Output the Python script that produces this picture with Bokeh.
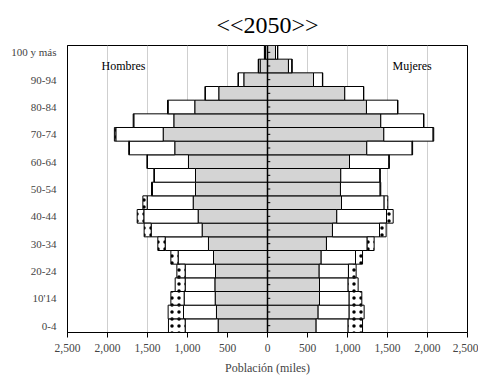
import numpy as np
from bokeh.plotting import figure
from bokeh.models import Label, FixedTicker, Span
from bokeh.embed import file_html
from bokeh.resources import INLINE

# Age groups (bottom to top)
ages = ["0-4", "5-9", "10'14", "15-19", "20-24", "25-29", "30-34", "35-39",
        "40-44", "45-49", "50-54", "55-59", "60-64", "65-69", "70-74",
        "75-79", "80-84", "85-89", "90-94", "95-99", "100 y más"]

# Hombres (miles): inner grey, middle white, outer dotted segments
men_grey = [617, 638, 654, 658, 650, 675, 738, 817, 867, 929, 900, 900, 988,
            1159, 1304, 1171, 909, 609, 296, 92, 25]
men_white = [412, 412, 388, 371, 379, 442, 541, 637, 679, 575, 538, 513, 512,
             566, 592, 500, 333, 167, 67, 20, 10]
men_dot = [209, 192, 166, 125, 104, 91, 92, 88, 83, 54, 12, 8, 8, 10, 18, 8,
           8, 6, 6, 4, 4]

# Mujeres (miles)
women_grey = [608, 633, 650, 650, 646, 671, 737, 812, 866, 925, 912, 916, 1025,
              1241, 1454, 1416, 1237, 966, 575, 262, 100]
women_white = [400, 388, 371, 358, 366, 429, 509, 588, 622, 533, 496, 488, 492,
               567, 616, 534, 388, 234, 112, 42, 25]
women_dot = [180, 187, 158, 125, 96, 88, 87, 83, 83, 46, 8, 6, 6, 6, 8, 6, 6,
             4, 4, 4, 4]

x_ticks = [-2500, -2000, -1500, -1000, -500, 0, 500, 1000, 1500, 2000, 2500]
title_text = "<<2050>>"
FONT = "Liberation Serif"

y = np.arange(len(ages))
mg = np.array(men_grey); mw = np.array(men_white); md = np.array(men_dot)
wg = np.array(women_grey); ww = np.array(women_white); wd = np.array(women_dot)

p = figure(width=478, height=377, output_backend="svg", toolbar_location=None,
           x_range=(-2500, 2500), y_range=(-0.5, len(ages) - 0.5),
           min_border_left=67, min_border_right=11, min_border_top=45,
           min_border_bottom=42, title=title_text)

grey = "#d4d4d4"
# men (negative side)
p.hbar(y=y, left=-mg, right=0, height=1.0, fill_color=grey, line_color="black", line_width=1)
p.hbar(y=y, left=-(mg + mw), right=-mg, height=1.0, fill_color="white", line_color="black", line_width=1)
p.hbar(y=y, left=-(mg + mw + md), right=-(mg + mw), height=1.0, fill_color="white",
       line_color="black", line_width=1, hatch_pattern="dot", hatch_color="black",
       hatch_scale=7, hatch_weight=1)
# women (positive side)
p.hbar(y=y, left=0, right=wg, height=1.0, fill_color=grey, line_color="black", line_width=1)
p.hbar(y=y, left=wg, right=wg + ww, height=1.0, fill_color="white", line_color="black", line_width=1)
p.hbar(y=y, left=wg + ww, right=wg + ww + wd, height=1.0, fill_color="white",
       line_color="black", line_width=1, hatch_pattern="dot", hatch_color="black",
       hatch_scale=7, hatch_weight=1)

# centre axis with small ticks
p.add_layout(Span(location=0, dimension="height", line_color="black", line_width=1.5))
p.segment(x0=0, x1=35, y0=y, y1=y, line_color="black", line_width=1)

# title
p.title.align = "center"
p.title.offset = 3
p.title.standoff = 16
p.title.text_font = FONT
p.title.text_font_size = "24px"
p.title.text_font_style = "normal"
p.title.text_color = "black"

# grids
p.xgrid.ticker = FixedTicker(ticks=x_ticks)
p.xgrid.grid_line_color = "#cfcfcf"
p.ygrid.visible = False
p.outline_line_color = "black"
p.outline_line_width = 1
p.background_fill_color = "white"
p.border_fill_color = "white"

# x axis
xa = p.xaxis[0]
xa.ticker = FixedTicker(ticks=x_ticks)
xa.major_label_overrides = {v: f"{abs(v):,}" for v in x_ticks}
xa.axis_label = "Población (miles)"
xa.axis_label_text_font = FONT
xa.axis_label_text_font_size = "12px"
xa.axis_label_text_font_style = "normal"
xa.axis_label_standoff = 6
xa.major_label_text_font = FONT
xa.major_label_text_font_size = "11.5px"
xa.major_label_standoff = 6
xa.major_tick_out = 5
xa.major_tick_in = 0
xa.minor_tick_line_color = None
xa.axis_line_color = "black"

# y axis
ya = p.yaxis[0]
shown = list(range(0, len(ages), 2))
ya.ticker = FixedTicker(ticks=shown)
ya.major_label_overrides = {i: ages[i] for i in shown}
ya.major_label_text_font = FONT
ya.major_label_text_font_size = "11px"
ya.major_label_standoff = 11
ya.major_tick_out = 0
ya.major_tick_in = 0
ya.minor_tick_line_color = None
ya.axis_line_color = "black"

# side labels
for txt, xv in (("Hombres", -2075), ("Mujeres", 1562)):
    p.add_layout(Label(x=xv, y=19.0, text=txt, text_font=FONT, text_font_size="12px",
                       text_align="left", text_baseline="middle", text_color="black"))

open("out.html", "w").write(file_html(p, INLINE))
